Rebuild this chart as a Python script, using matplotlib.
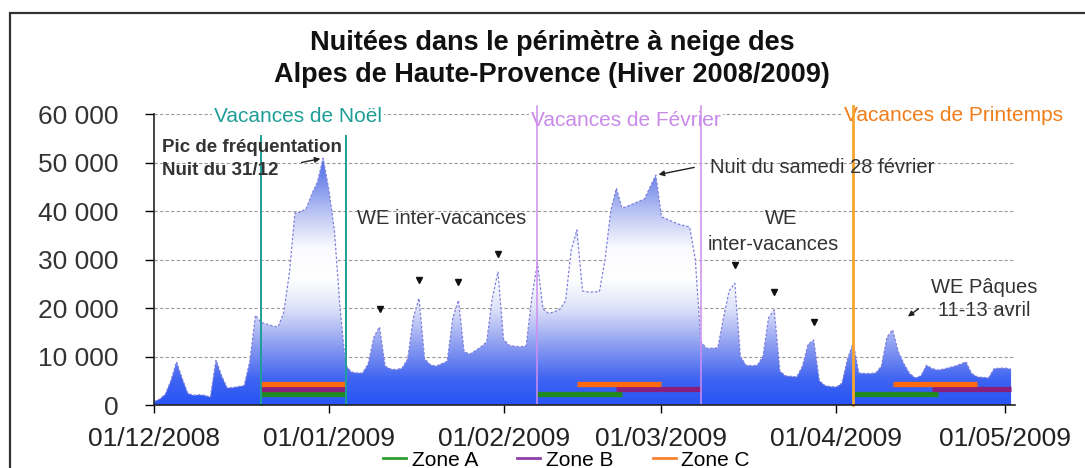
import numpy as np
import pandas as pd
import matplotlib
matplotlib.use('Agg')
import matplotlib.pyplot as plt
import matplotlib.dates as mdates
from matplotlib.patches import Polygon, Rectangle
from matplotlib.colors import LinearSegmentedColormap
from matplotlib.lines import Line2D

plt.rcParams['font.family'] = ['Liberation Sans', 'DejaVu Sans']

# %%
################################
# Data (nuitées journalières, 01/12/2008 -> 02/05/2009)
################################
jours = pd.date_range('2008-12-01', '2009-05-02', freq='D')
nuitees = [
    # décembre
    700, 1200, 2200, 5000, 8900, 5500, 2400, 2000, 2100, 2000,
    1600, 9300, 6000, 3500, 3600, 3800, 4000, 9000, 18500, 17000,
    16700, 16300, 16100, 19000, 27000, 39600, 39800, 40500, 43500, 46000,
    50900,
    # janvier
    44500, 36000, 20000, 8200, 6800, 6600, 6600, 8500, 14000, 16100,
    8000, 7400, 7300, 7600, 9500, 18000, 22000, 9500, 8300, 8000,
    8500, 9000, 18000, 21600, 11000, 10500, 11200, 12000, 13000, 22000,
    27400,
    # février
    13500, 12300, 12100, 12000, 12200, 22000, 29300, 19800, 18900, 19200,
    19800, 21500, 32000, 36100, 23500, 23300, 23300, 23400, 30000, 40000,
    44700, 40600, 41000, 41500, 42000, 42500, 45000, 47400,
    # mars
    38800, 38300, 37800, 37300, 37000, 36700, 30000, 13000, 11700, 11700,
    11800, 18000, 23500, 25100, 10000, 8200, 8100, 8200, 10000, 18000,
    19600, 7000, 6000, 5900, 5800, 8000, 12500, 13400, 5000, 4000,
    3800,
    # avril
    3700, 4500, 9500, 12800, 6600, 6500, 6500, 6600, 8000, 14000,
    15500, 11000, 8500, 6500, 5600, 6000, 8200, 7500, 7200, 7400,
    7700, 8000, 8400, 8900, 6500, 5800, 5700, 5600, 7500, 7600,
    # mai
    7600, 7400,
]

mois_ticks = ['2008-12-01', '2009-01-01', '2009-02-01', '2009-03-01', '2009-04-01', '2009-05-01']
we_inter = ['2009-01-10', '2009-01-17', '2009-01-24', '2009-01-31',
            '2009-03-14', '2009-03-21', '2009-03-28']

vac_noel = ['2008-12-20', '2009-01-04']
vac_fevrier = ['2009-02-07', '2009-03-08']
vac_printemps = ['2009-04-04']

zone_a = [('2008-12-20', '2009-01-04'), ('2009-02-07', '2009-02-22'), ('2009-04-04', '2009-04-19')]
zone_b = [('2008-12-20', '2009-01-04'), ('2009-02-21', '2009-03-08'), ('2009-04-18', '2009-05-02')]
zone_c = [('2008-12-20', '2009-01-04'), ('2009-02-14', '2009-03-01'), ('2009-04-11', '2009-04-26')]

# %%
serie = pd.Series(nuitees, index=jours)
x = mdates.date2num(jours)
y = np.array(nuitees, dtype=float)
d = lambda s: mdates.date2num(pd.Timestamp(s))
x0 = x[0]

fig = plt.figure(figsize=(10.85, 4.68), dpi=100)
ax = fig.add_axes([0.1419, 0.1346, 0.7936, 0.6218])

# cadre du graphique
fig.add_artist(Rectangle((0.0092, -0.1), 1.2, 0.972 + 0.1, transform=fig.transFigure,
                         fill=False, edgecolor='#333333', lw=1.6))

# grille
for v in range(10000, 60001, 10000):
    ax.axhline(v, color='#9a9a9a', lw=0.8, ls=(0, (3, 2)), zorder=1)

# aire en dégradé
cmap = LinearSegmentedColormap.from_list('neige', [
    (0.0, '#2754f5'), (0.1, '#3f64f2'), (0.22, '#8396f0'), (0.38, '#dde1f8'),
    (0.5, '#ffffff'), (0.62, '#fbfbfe'), (0.75, '#c0c9f4'), (0.88, '#7a90ec'),
    (1.0, '#4565e8')])
grad = np.linspace(0, 1, 256).reshape(-1, 1)
im = ax.imshow(grad, extent=[x0, x[-1], 0, 52000], origin='lower', aspect='auto',
               cmap=cmap, zorder=2)
poly = Polygon(np.vstack([[x0, 0], np.column_stack([x, y]), [x[-1], 0]]),
               facecolor='none', edgecolor='none')
ax.add_patch(poly)
im.set_clip_path(poly)
ax.plot(x, y, color='#7f80dc', lw=0.9, ls=(0, (2, 1.5)), zorder=3)

# barres des zones
for periodes, col, niv in [(zone_a, '#1f8a1f', 2300), (zone_b, '#8a1f7c', 3300), (zone_c, '#ff6a10', 4400)]:
    for a, b in periodes:
        ax.plot([d(a), d(b)], [niv, niv], color=col, lw=3.8, solid_capstyle='butt', zorder=5)

# lignes des vacances
for s in vac_noel:
    ax.plot([d(s), d(s)], [0, 55500], color='#1e9e96', lw=1.4, zorder=6, clip_on=False)
for s in vac_fevrier:
    ax.plot([d(s), d(s)], [0, 61700], color='#d08ef0', lw=1.1, zorder=6, clip_on=False)
for s in vac_printemps:
    ax.plot([d(s), d(s)], [0, 61700], color='#f7a52e', lw=2.0, zorder=6, clip_on=False)

lab = dict(fontsize=15, ha='center', va='center', zorder=5, clip_on=False,
           bbox=dict(facecolor='white', edgecolor='none', pad=1.5))
ax.text(x0 + 25.5, 59400, 'Vacances de Noël', color='#1e9e96', **lab)
ax.text(x0 + 83.7, 58600, 'Vacances de Février', color='#c98ae8', **lab)
ax.text(x0 + 141.8, 59600, 'Vacances de Printemps', color='#f07d1a', **lab)

# WE inter-vacances
wx = [d(s) for s in we_inter]
wy = [serie[pd.Timestamp(s)] + 3700 for s in we_inter]
ax.plot(wx, wy, 'v', color='#111111', ms=4, zorder=7, ls='none')

# annotations
txt = dict(color='#333333', va='center', zorder=7)
ax.text(x0 + 1.4, 53000, 'Pic de fréquentation', fontsize=13.5, fontweight='bold', **txt)
ax.text(x0 + 1.4, 48300, 'Nuit du 31/12', fontsize=13.5, fontweight='bold', **txt)
ax.annotate('', xy=(d('2008-12-31'), 50900), xytext=(x0 + 25.7, 49900),
            arrowprops=dict(arrowstyle='-|>', color='#222222', lw=1, mutation_scale=8), zorder=7)
ax.text(x0 + 36, 38400, 'WE inter-vacances', fontsize=14.5, **txt)
ax.text(x0 + 98.6, 48900, 'Nuit du samedi 28 février', fontsize=14.5, **txt)
ax.annotate('', xy=(d('2009-02-28'), 47400), xytext=(x0 + 96.3, 49100),
            arrowprops=dict(arrowstyle='-|>', color='#222222', lw=1, mutation_scale=8), zorder=7)
ax.text(x0 + 111.2, 38400, 'WE', fontsize=14.5, ha='center', **txt)
ax.text(x0 + 109.8, 33000, 'inter-vacances', fontsize=14.5, ha='center', **txt)
ax.text(x0 + 147.3, 24300, 'WE Pâques', fontsize=14.5, ha='center', **txt)
ax.text(x0 + 147.3, 19400, '11-13 avril', fontsize=14.5, ha='center', **txt)
ax.annotate('', xy=(x0 + 133.3, 17900), xytext=(x0 + 136, 20200),
            arrowprops=dict(arrowstyle='-|>', color='#222222', lw=1, mutation_scale=8), zorder=7)

# axes
ax.set_xlim(x0, x0 + 152.7)
ax.set_ylim(0, 60000)
ax.set_yticks(range(0, 60001, 10000))
ax.set_yticklabels(['{:,}'.format(v).replace(',', ' ') for v in range(0, 60001, 10000)])
ax.set_xticks([d(s) for s in mois_ticks])
ax.set_xticklabels([pd.Timestamp(s).strftime('%d/%m/%Y') for s in mois_ticks])
ax.tick_params(axis='y', length=6.5, width=1, pad=19, labelsize=19, labelcolor='#333333')
ax.tick_params(axis='x', length=6, width=1, pad=10, labelsize=19, labelcolor='#222222')
for sp in ['top', 'right']:
    ax.spines[sp].set_visible(False)
for sp in ['left', 'bottom']:
    ax.spines[sp].set_color('#222222')
    ax.spines[sp].set_linewidth(1.2)
    ax.spines[sp].set_zorder(8)

# titre
fig.text(0.509, 1 - 43 / 468, 'Nuitées dans le périmètre à neige des', fontsize=19.5,
         fontweight='bold', ha='center', va='center', color='#111111')
fig.text(0.509, 1 - 75 / 468, 'Alpes de Haute-Provence (Hiver 2008/2009)', fontsize=19.5,
         fontweight='bold', ha='center', va='center', color='#111111')

# légende
handles = [Line2D([], [], color='#2e9e2e', lw=2), Line2D([], [], color='#8e3fa8', lw=2),
           Line2D([], [], color='#f58231', lw=2)]
fig.legend(handles, ['Zone A', 'Zone B', 'Zone C'], loc='center', bbox_to_anchor=(0.522, 0.017),
           ncol=3, frameon=False, fontsize=15, handlelength=1.1, columnspacing=1.9,
           handletextpad=0.25, borderpad=0)

fig.savefig('out.png', dpi=100)
